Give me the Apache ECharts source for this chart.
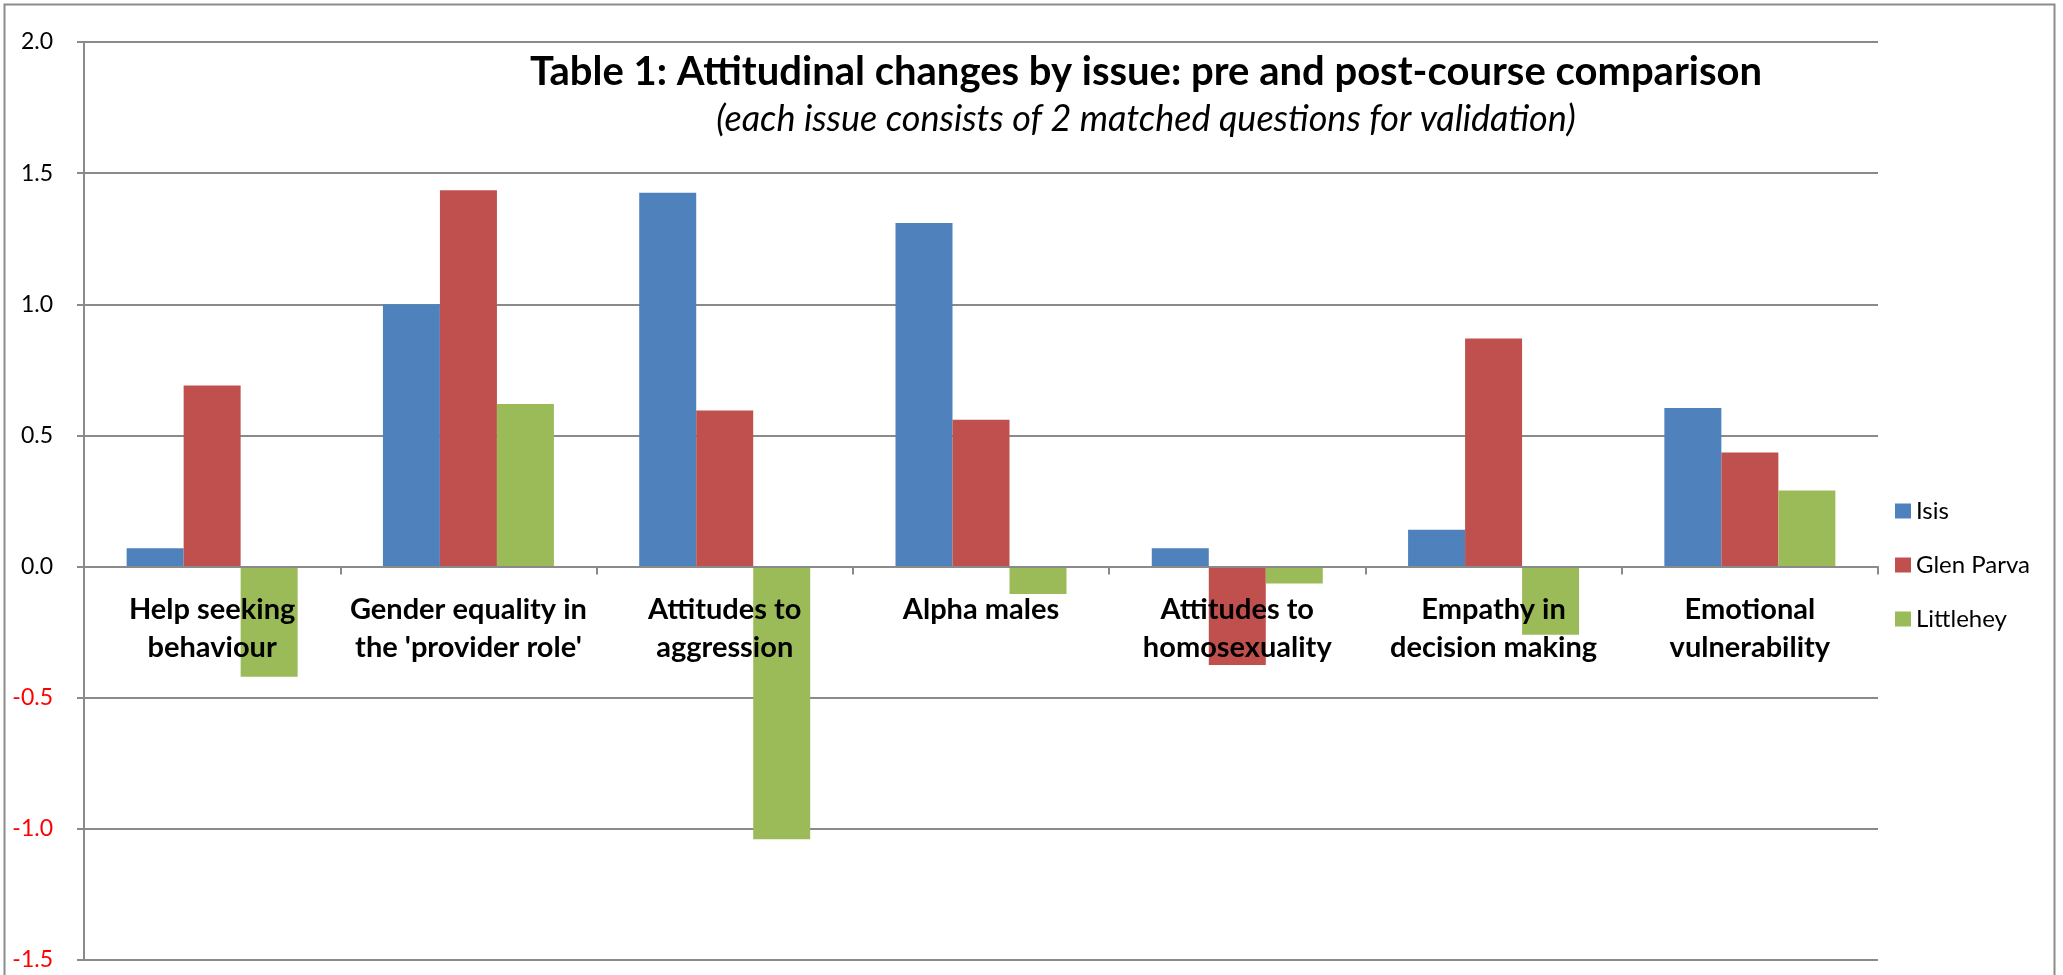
<!DOCTYPE html>
<html>
<head>
<meta charset="utf-8">
<script src="https://cdn.jsdelivr.net/npm/echarts@6/dist/echarts.min.js"></script>
<style>
html,body{margin:0;padding:0;background:#fff;}
#chart{width:2063px;height:975px;}
</style>
</head>
<body>
<div id="chart"></div>
<script>
const categories = [
  "Help seeking\nbehaviour",
  "Gender equality in\nthe 'provider role'",
  "Attitudes to\naggression",
  "Alpha males",
  "Attitudes to\nhomosexuality",
  "Empathy in\ndecision making",
  "Emotional\nvulnerability"
];
const seriesNames = ["Isis", "Glen Parva", "Littlehey"];
const isis = [0.07, 1.00, 1.425, 1.31, 0.07, 0.14, 0.605];
const glenParva = [0.69, 1.435, 0.595, 0.56, -0.375, 0.87, 0.435];
const littlehey = [-0.42, 0.62, -1.04, -0.105, -0.065, -0.26, 0.29];
const yMin = -1.5, yMax = 2.0, yStep = 0.5;
const titleText = "Table 1: Attitudinal changes by issue: pre and post-course comparison";
const subtitleText = "(each issue consists of 2 matched questions for validation)";

const colors = ["#4F81BD", "#C0504D", "#9BBB59"];
const gridColor = "#8a8a8a";
const FONT = "Lato, 'Open Sans', sans-serif";

const W = 2063, H = 975;
const gridTop = 42, gridBottom = 15, gridLeft = 84, gridRight = 185;
const plotH = H - gridTop - gridBottom;
// shift category axis from the bottom edge up to the zero line
const zeroOffset = -plotH * (0 - yMin) / (yMax - yMin);

const chart = echarts.init(document.getElementById('chart'));
const values = [isis, glenParva, littlehey];
chart.setOption({
  animation: false,
  color: colors,
  textStyle: { fontFamily: FONT },
  grid: { left: gridLeft, right: gridRight, top: gridTop, bottom: gridBottom, containLabel: false, outerBoundsMode: 'none' },
  legend: {
    orient: 'vertical',
    left: 1890,
    top: 494,
    itemWidth: 16,
    itemHeight: 15,
    itemGap: 30,
    icon: 'rect',
    data: seriesNames,
    textStyle: { fontSize: 24, color: '#000', fontFamily: FONT }
  },
  xAxis: {
    type: 'category',
    data: categories,
    z: 10,
    position: 'bottom',
    offset: zeroOffset,
    axisLine: { onZero: false, lineStyle: { color: gridColor, width: 2 } },
    axisTick: { show: true, length: 8, lineStyle: { color: gridColor, width: 2 } },
    axisLabel: {
      interval: 0,
      margin: 24,
      color: '#000',
      fontWeight: 'bold',
      fontSize: 29,
      lineHeight: 38,
      fontFamily: FONT
    }
  },
  yAxis: {
    type: 'value',
    min: yMin,
    max: yMax,
    interval: yStep,
    axisLine: { show: true, lineStyle: { color: gridColor, width: 2 } },
    axisTick: { show: true, length: 7, lineStyle: { color: gridColor, width: 2 } },
    splitLine: { show: true, lineStyle: { color: gridColor, width: 2 } },
    axisLabel: {
      margin: 31,
      fontSize: 23,
      fontFamily: FONT,
      formatter: v => v.toFixed(1),
      color: v => (Number(v) < 0 ? '#FF0000' : '#000000')
    }
  },
  series: seriesNames.map((name, i) => ({
    name: name,
    type: 'bar',
    data: values[i],
    barWidth: 57,
    barGap: '0%',
    itemStyle: { color: colors[i] }
  })),
  graphic: [
    {
      type: 'rect',
      silent: true,
      z: -10,
      shape: { x: 4.5, y: 4.5, width: 2050, height: 1000 },
      style: { fill: 'none', stroke: '#8c8c8c', lineWidth: 2 }
    },
    {
      type: 'text',
      x: 1146, y: 72,
      z: 20,
      style: {
        text: titleText,
        fill: '#000',
        font: "bold 40px " + FONT,
        textAlign: 'center',
        textVerticalAlign: 'middle'
      }
    },
    {
      type: 'text',
      x: 1146, y: 119,
      z: 20,
      style: {
        text: subtitleText,
        fill: '#000',
        font: "italic 36px " + FONT,
        textAlign: 'center',
        textVerticalAlign: 'middle'
      }
    }
  ]
});
</script>
</body>
</html>
